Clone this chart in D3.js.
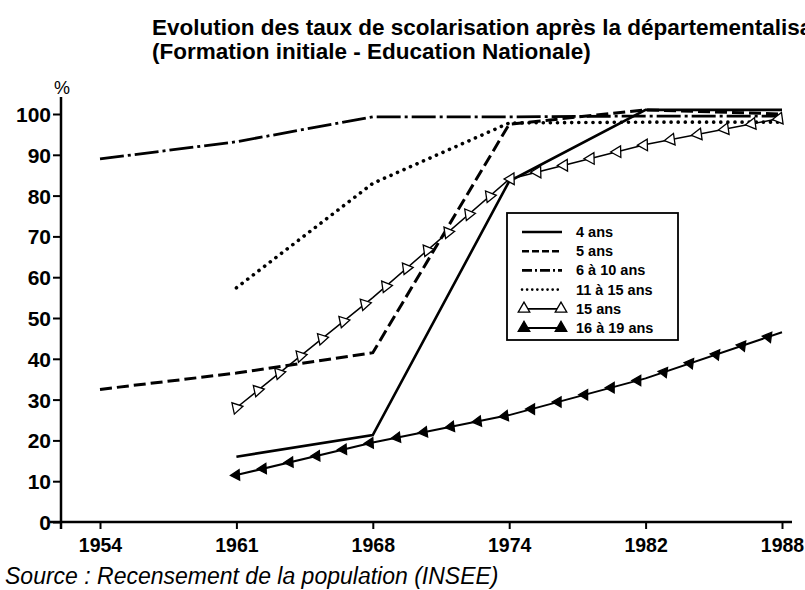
<!DOCTYPE html>
<html>
<head>
<meta charset="utf-8">
<script src="https://cdn.jsdelivr.net/npm/d3@7"></script>
<style>
  body { margin: 0; background: #fff; }
  svg { display: block; font-family: "Liberation Sans", Arial, sans-serif; }
</style>
</head>
<body>
<div id="chart"></div>
<script>
const years = ["1954", "1961", "1968", "1974", "1982", "1988"];
const ans4 = [null, 16, 21.3, 83.5, 101, 101];
const ans5 = [32.5, 36.5, 41.5, 97.5, 101, 100];
const ans6to10 = [89, 93.2, 99.3, 99.3, 99.5, 99.5];
const ans11to15 = [null, 57.4, 83, 97.8, 98, 98];
const ans15 = [null, 28, 55, 84, 92.5, 99];
const ans16to19 = [null, 11.5, 19.5, 26.2, 35.2, 46.5];
const yTicks = [0, 10, 20, 30, 40, 50, 60, 70, 80, 90, 100];
const legendLabels = ["4 ans", "5 ans", "6 à 10 ans", "11 à 15 ans", "15 ans", "16 à 19 ans"];

const width = 805;
const height = 590;

const x = d3.scalePoint().domain(years).range([100, 782]);
const y = d3.scaleLinear().domain([0, 100]).range([522, 114]);

const svg = d3.select("#chart").append("svg")
    .attr("width", width)
    .attr("height", height);

// title (the source page cuts the first line at the right edge)
svg.append("text")
    .attr("x", 152).attr("y", 35)
    .attr("font-size", 22.5).attr("font-weight", "bold")
    .text("Evolution des taux de scolarisation après la départementalisation");
svg.append("text")
    .attr("x", 152).attr("y", 59)
    .attr("font-size", 22.5).attr("font-weight", "bold")
    .text("(Formation initiale - Education Nationale)");

// axes
const yAxis = svg.append("g")
    .attr("transform", "translate(61,0)")
    .call(d3.axisLeft(y).tickValues(yTicks).tickSize(8).tickPadding(2));
const xAxis = svg.append("g")
    .attr("transform", `translate(0,${y(0)})`)
    .call(d3.axisBottom(x).tickSize(7).tickPadding(9));

[yAxis, xAxis].forEach(g => {
    g.select(".domain").remove();
    g.selectAll(".tick line").attr("stroke", "#000").attr("stroke-width", 2);
    g.selectAll(".tick text")
        .attr("fill", "#000")
        .attr("font-family", "Liberation Sans, Arial, sans-serif")
        .attr("font-weight", "bold");
});
yAxis.selectAll(".tick text").attr("font-size", 21).attr("dy", "0.36em");
xAxis.selectAll(".tick text").attr("font-size", 19.5);

svg.append("line")
    .attr("x1", 61).attr("x2", 61)
    .attr("y1", 97).attr("y2", y(0) + 7)
    .attr("stroke", "#000").attr("stroke-width", 2.5);
svg.append("line")
    .attr("x1", 50).attr("x2", 792)
    .attr("y1", y(0)).attr("y2", y(0))
    .attr("stroke", "#000").attr("stroke-width", 2.5);

svg.append("text")
    .attr("x", 62).attr("y", 94)
    .attr("text-anchor", "middle")
    .attr("font-size", 18)
    .text("%");

// series
const series = [
    { values: ans4, width: 2.6, dash: null },
    { values: ans5, width: 3, dash: "12,5" },
    { values: ans6to10, width: 2.8, dash: "24,4,3,4" },
    { values: ans11to15, width: 3.6, dash: "0.1,7", cap: "round" },
    { values: ans15, width: 1.5, dash: null, marker: "open" },
    { values: ans16to19, width: 2, dash: null, marker: "filled" }
];

const line = d3.line()
    .defined(d => d != null)
    .x((d, i) => x(years[i]))
    .y(d => y(d));

const tri = d3.symbol().type(d3.symbolTriangle);

series.forEach(s => {
    const path = svg.append("path")
        .datum(s.values)
        .attr("fill", "none")
        .attr("stroke", "#000")
        .attr("stroke-width", s.width)
        .attr("stroke-linecap", s.cap || "butt")
        .attr("stroke-dasharray", s.dash)
        .attr("d", line);

    // markers sit at an even spacing along the drawn line
    if (s.marker) {
        const node = path.node();
        const total = node.getTotalLength();
        const pts = [];
        for (let l = 0; l <= total; l += 27.5) {
            const p = node.getPointAtLength(l);
            const a = node.getPointAtLength(Math.max(0, l - 1));
            const b = node.getPointAtLength(Math.min(total, l + 1));
            const ang = Math.atan2(b.y - a.y, b.x - a.x) * 180 / Math.PI;
            pts.push({ x: p.x, y: p.y, rot: -2 * ang });
        }
        svg.append("g").selectAll("path")
            .data(pts)
            .join("path")
            .attr("d", tri.size(s.marker === "open" ? 58 : 46)())
            .attr("transform", d => `translate(${d.x},${d.y}) rotate(${d.rot})`)
            .attr("fill", s.marker === "open" ? "#fff" : "#000")
            .attr("stroke", "#000")
            .attr("stroke-width", 1.3);
    }
});

// legend
const legend = svg.append("g").attr("transform", "translate(507,213)");
legend.append("rect")
    .attr("width", 171).attr("height", 127)
    .attr("fill", "#fff").attr("stroke", "#000").attr("stroke-width", 1.8);

legendLabels.forEach((label, i) => {
    const s = series[i];
    const ly = 19 + i * 19.2;
    legend.append("line")
        .attr("x1", 15).attr("x2", 55)
        .attr("y1", ly).attr("y2", ly)
        .attr("stroke", "#000")
        .attr("stroke-width", s.marker ? 1.8 : Math.min(s.width, 2.6))
        .attr("stroke-linecap", s.cap || "butt")
        .attr("stroke-dasharray", s.cap ? "0.1,5" : (s.dash ? (i === 1 ? "7,3" : "10,3,2,3") : null));
    if (s.marker) {
        [17, 54].forEach(mx => {
            legend.append("path")
                .attr("d", tri.size(58)())
                .attr("transform", `translate(${mx},${ly})`)
                .attr("fill", s.marker === "open" ? "#fff" : "#000")
                .attr("stroke", "#000").attr("stroke-width", 1.3);
        });
    }
    legend.append("text")
        .attr("x", 69).attr("y", ly + 5)
        .attr("font-size", 14.5).attr("font-weight", "bold")
        .text(label);
});

// source
svg.append("text")
    .attr("x", 5).attr("y", 584)
    .attr("font-size", 23).attr("font-style", "italic")
    .text("Source : Recensement de la population (INSEE)");
</script>
</body>
</html>
